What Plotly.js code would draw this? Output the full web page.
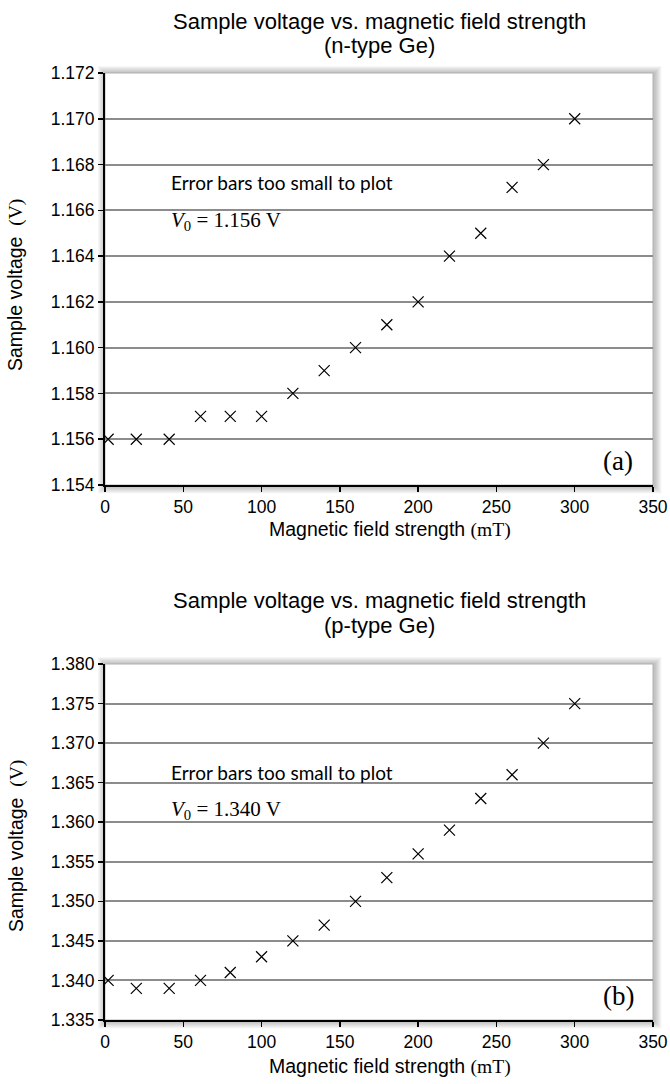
<!DOCTYPE html>
<html>
<head>
<meta charset="utf-8">
<script src="https://cdn.plot.ly/plotly-3.0.1.min.js"></script>
<style>html,body{margin:0;padding:0;background:#fff;}#chart{width:670px;height:1084px;}</style>
</head>
<body>
<div id="chart"></div>
<script>
// Data
var fieldN = [2, 20, 41, 61, 80, 100, 120, 140, 160, 180, 200, 220, 240, 260, 280, 300];
var voltN = [1.156, 1.156, 1.156, 1.157, 1.157, 1.157, 1.158, 1.159, 1.160, 1.161, 1.162, 1.164, 1.165, 1.167, 1.168, 1.170];
var fieldP = [2, 20, 41, 61, 80, 100, 120, 140, 160, 180, 200, 220, 240, 260, 280, 300];
var voltP = [1.340, 1.339, 1.339, 1.340, 1.341, 1.343, 1.345, 1.347, 1.350, 1.353, 1.356, 1.359, 1.363, 1.366, 1.370, 1.375];
var titleMain = "Sample voltage vs. magnetic field strength";
var subN = "(n-type Ge)";
var subP = "(p-type Ge)";
var xTitle = "Magnetic field strength <span style=\"font-family:Liberation Serif\">(mT)</span>";
var yTitle = "Sample voltage &nbsp;<span style=\"font-family:Liberation Serif\">(V)</span>";
var noteText = "Error bars too small to plot";
var v0N = "<i>V</i><sub>0</sub> = 1.156 V";
var v0P = "<i>V</i><sub>0</sub> = 1.340 V";

var W = 670, H = 1084, L = 105, R = 17;
var PW = W - L - R;
function py(p){ return 1 - p / H; }
function px(p){ return (p - L) / PW; }

var marker = {symbol: 'x-thin-open', size: 11, color: '#000', line: {color: '#000', width: 1.2}};
var traces = [
  {x: fieldN, y: voltN, type: 'scatter', mode: 'markers', marker: marker, xaxis: 'x', yaxis: 'y', hoverinfo: 'x+y'},
  {x: fieldP, y: voltP, type: 'scatter', mode: 'markers', marker: marker, xaxis: 'x2', yaxis: 'y2', hoverinfo: 'x+y'}
];

var tickFont = {family: "Liberation Sans Narrow, Liberation Sans, Arial, sans-serif", size: 17.5, color: '#000'};
function xax(anchor){
  return {anchor: anchor, domain: [0, 1], range: [0, 350], dtick: 50, tick0: 0,
    showline: true, linecolor: '#000', linewidth: 2, ticks: 'outside', ticklen: 5, tickwidth: 1.5, tickcolor: '#000',
    showgrid: false, zeroline: false, tickfont: tickFont, fixedrange: true};
}
function yax(anchor, dom, rng, dt){
  return {anchor: anchor, domain: dom, range: rng, dtick: dt, tick0: rng[0], tickformat: '.3f',
    showline: true, linecolor: '#000', linewidth: 2, ticks: 'outside', ticklen: 5, tickwidth: 1.5, tickcolor: '#000',
    showgrid: true, gridcolor: '#8c8c8c', gridwidth: 2, zeroline: false, tickfont: tickFont, fixedrange: true};
}

var domA = [py(485), py(73)];
var domB = [py(1020), py(664)];

// shadow shapes
var shapes = [];
function addShadow(xr, yr, hpx){
  for (var k = 7; k >= 1; k--) {
    var dx = k / PW, dy = k / hpx;
    shapes.push({type: 'rect', xref: xr + ' domain', yref: yr + ' domain', layer: 'below',
      x0: -dx, x1: 1 + dx + 1.5/PW, y0: -dy - 1.5/hpx, y1: 1 + dy,
      fillcolor: 'rgba(0,0,0,0.035)', line: {width: 0}});
  }
  shapes.push({type: 'rect', xref: xr + ' domain', yref: yr + ' domain', layer: 'below',
    x0: 0, x1: 1, y0: 0, y1: 1, fillcolor: '#fff', line: {color: '#b0b0b0', width: 1}});
}
addShadow('x', 'y', 412);
addShadow('x2', 'y2', 356);

var titleFont = {family: "Liberation Sans, Arial, sans-serif", size: 22, color: '#000'};
var axTitleFont = {family: "Liberation Sans, Arial, sans-serif", size: 19.5, color: '#000'};
var noteFont = {family: "Lato, Open Sans, sans-serif", size: 19, color: '#000'};
var mathFont = {family: "Liberation Serif, DejaVu Serif, serif", size: 21, color: '#000'};
var labelFont = {family: "Liberation Serif, DejaVu Serif, serif", size: 27, color: '#000'};

function ann(text, x, y, font, extra){
  var a = {text: text, xref: 'paper', yref: 'paper', x: x, y: y, xanchor: 'center', yanchor: 'middle', showarrow: false, font: font};
  for (var k in (extra || {})) a[k] = extra[k];
  return a;
}

var annotations = [
  ann(titleMain, px(379), py(22), titleFont),
  ann(subN, px(379), py(46), titleFont),
  ann(titleMain, px(379), py(600), titleFont),
  ann(subP, px(379), py(625), titleFont),
  ann(xTitle, px(390), py(530), axTitleFont),
  ann(xTitle, px(390), py(1066), axTitleFont),
  ann(yTitle, px(16), py(285), axTitleFont, {textangle: -90}),
  ann(yTitle, px(16), py(846), axTitleFont, {textangle: -90}),
  {text: noteText, xref: 'x domain', yref: 'y domain', x: 0.117, y: 0.735, xanchor: 'left', yanchor: 'middle', showarrow: false, font: noteFont},
  {text: v0N, xref: 'x domain', yref: 'y domain', x: 0.117, y: 0.641, xanchor: 'left', yanchor: 'middle', showarrow: false, font: mathFont},
  {text: '(a)', xref: 'x domain', yref: 'y domain', x: 0.937, y: 0.058, xanchor: 'center', yanchor: 'middle', showarrow: false, font: labelFont},
  {text: noteText, xref: 'x2 domain', yref: 'y2 domain', x: 0.117, y: 0.695, xanchor: 'left', yanchor: 'middle', showarrow: false, font: noteFont},
  {text: v0P, xref: 'x2 domain', yref: 'y2 domain', x: 0.117, y: 0.590, xanchor: 'left', yanchor: 'middle', showarrow: false, font: mathFont},
  {text: '(b)', xref: 'x2 domain', yref: 'y2 domain', x: 0.937, y: 0.067, xanchor: 'center', yanchor: 'middle', showarrow: false, font: labelFont}
];

var layout = {
  width: W, height: H,
  margin: {l: L, r: R, t: 0, b: 0},
  paper_bgcolor: '#fff', plot_bgcolor: 'rgba(0,0,0,0)',
  showlegend: false,
  xaxis: xax('y'), yaxis: yax('x', domA, [1.154, 1.172], 0.002),
  xaxis2: xax('y2'), yaxis2: yax('x2', domB, [1.335, 1.380], 0.005),
  shapes: shapes,
  annotations: annotations
};

Plotly.newPlot('chart', traces, layout, {displayModeBar: false, staticPlot: true});
</script>
</body>
</html>
